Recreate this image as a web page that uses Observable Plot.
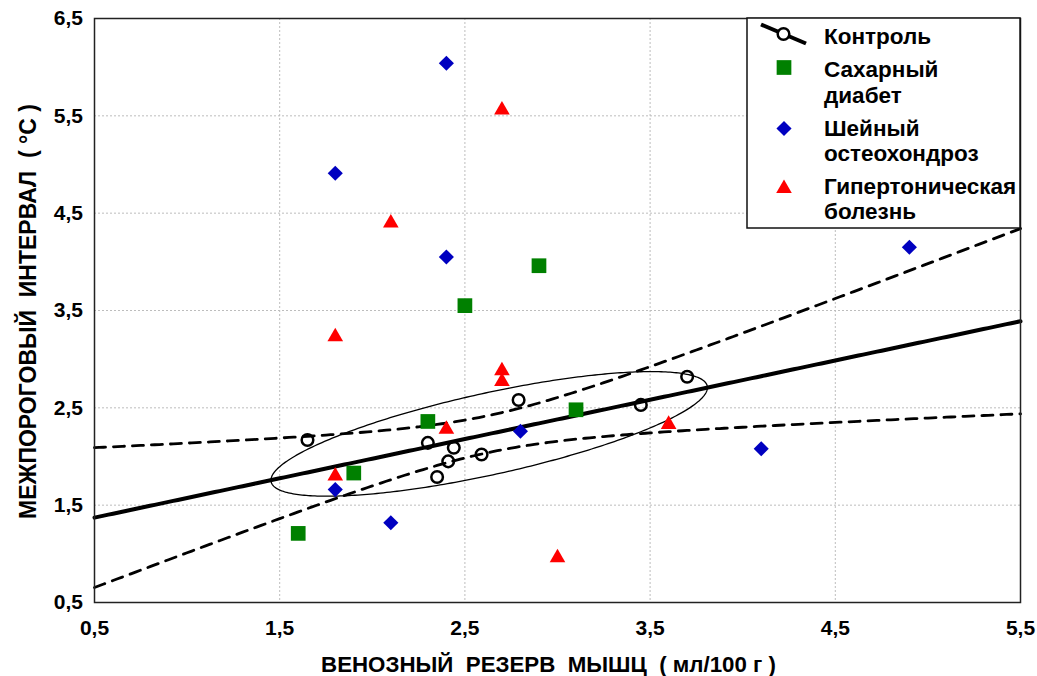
<!DOCTYPE html>
<html><head><meta charset="utf-8">
<script src="https://cdn.jsdelivr.net/npm/d3@7"></script>
<script src="https://cdn.jsdelivr.net/npm/@observablehq/plot@0.6"></script>
<style>
body{margin:0;background:#fff}
svg{display:block}
</style>
</head><body><div id="chart"></div>
<script>
// ---- data ----
const controlX = [1.65, 2.30, 2.44, 2.41, 2.35, 2.59, 2.79, 3.45, 3.70];
const controlY = [2.17, 2.14, 2.09, 1.95, 1.79, 2.02, 2.58, 2.53, 2.82];
const diabetesX = [1.6, 1.9, 2.3, 2.5, 2.9, 3.1];
const diabetesY = [1.21, 1.83, 2.36, 3.55, 3.96, 2.48];
const osteoX = [1.8, 1.8, 2.1, 2.4, 2.4, 2.8, 4.1, 4.9];
const osteoY = [4.91, 1.66, 1.32, 6.04, 4.05, 2.26, 2.08, 4.15];
const hyperX = [1.8, 1.8, 2.1, 2.4, 2.7, 2.7, 2.7, 3.0, 3.6];
const hyperY = [1.80, 3.23, 4.40, 2.28, 5.56, 2.88, 2.77, 0.96, 2.33];

const xTicks = [0.5, 1.5, 2.5, 3.5, 4.5, 5.5];
const yTicks = [0.5, 1.5, 2.5, 3.5, 4.5, 5.5, 6.5];
const seriesNames = ["Контроль", ["Сахарный", "диабет"], ["Шейный", "остеохондроз"], ["Гипертоническая", "болезнь"]];
const xTitle = "ВЕНОЗНЫЙ\u00a0\u00a0РЕЗЕРВ\u00a0\u00a0МЫШЦ\u00a0\u00a0(\u00a0мл/100\u00a0г\u00a0)";
const yTitle = "МЕЖПОРОГОВЫЙ\u00a0\u00a0ИНТЕРВАЛ\u00a0\u00a0(\u00a0°С\u00a0)";

const colGreen = "#008000", colBlue = "#0000c0", colRed = "#ff0000";
const FONT = "'Liberation Sans', Arial, sans-serif";

// ---- derived tables ----
const control = controlX.map((x, i) => ({x, y: controlY[i]}));
const diabetes = diabetesX.map((x, i) => ({x, y: diabetesY[i]}));
const osteo = osteoX.map((x, i) => ({x, y: osteoY[i]}));
const hyper = hyperX.map((x, i) => ({x, y: hyperY[i]}));

// linear regression of control group with 95% confidence band
const n = control.length;
const mx = d3.mean(controlX), my = d3.mean(controlY);
const sxx = d3.sum(controlX, x => (x - mx) ** 2);
const syy = d3.sum(controlY, y => (y - my) ** 2);
const sxy = d3.sum(control, d => (d.x - mx) * (d.y - my));
const slope = sxy / sxx, icpt = my - slope * mx;
const sres = Math.sqrt(d3.sum(control, d => (d.y - icpt - slope * d.x) ** 2) / (n - 2));
const tcrit = 2.365; // t(0.975, df = 7)
const xDomain = [xTicks[0], xTicks[xTicks.length - 1]];
const fit = d3.range(0, 201).map(i => {
  const x = xDomain[0] + i * (xDomain[1] - xDomain[0]) / 200;
  const yh = icpt + slope * x;
  const se = sres * Math.sqrt(1 / n + (x - mx) ** 2 / sxx);
  return {x, y: yh, lo: yh - tcrit * se, hi: yh + tcrit * se};
});

// confidence ellipse of the control group
const vx = sxx / (n - 1), vy = syy / (n - 1), cxy = sxy / (n - 1);
const sx = Math.sqrt(vx), l21 = cxy / sx, l22 = Math.sqrt(vy - l21 * l21);
const ek = 1.9;
const ellipse = d3.range(0, 361).map(a => {
  const t = a * Math.PI / 180;
  return {x: mx + ek * sx * Math.cos(t), y: my + ek * (l21 * Math.cos(t) + l22 * Math.sin(t))};
});

const fmt = d => d.toFixed(1).replace(".", ",");

const chart = Plot.plot({
  width: 1037,
  height: 676,
  marginLeft: 94,
  marginRight: 17,
  marginTop: 18,
  marginBottom: 74,
  style: {fontFamily: FONT, fontWeight: "bold", fontSize: "21px", color: "#000", background: "#fff"},
  x: {domain: xDomain},
  y: {domain: [yTicks[0], yTicks[yTicks.length - 1]]},
  marks: [
    Plot.gridX(xTicks, {stroke: "#bdbdbd", strokeOpacity: 1, strokeDasharray: "2,2"}),
    Plot.gridY(yTicks, {stroke: "#bdbdbd", strokeOpacity: 1, strokeDasharray: "2,2"}),
    Plot.line(ellipse, {x: "x", y: "y", stroke: "#000", strokeWidth: 1.3}),
    Plot.line(fit, {x: "x", y: "lo", stroke: "#000", strokeWidth: 2.8, strokeDasharray: "11,8"}),
    Plot.line(fit, {x: "x", y: "hi", stroke: "#000", strokeWidth: 2.8, strokeDasharray: "11,8"}),
    Plot.line(fit, {x: "x", y: "y", stroke: "#000", strokeWidth: 4}),
    Plot.dot(control, {x: "x", y: "y", r: 5.8, stroke: "#000", strokeWidth: 2.5, fill: "none"}),
    Plot.dot(diabetes, {x: "x", y: "y", symbol: "square", r: 8.3, fill: colGreen, stroke: "none"}),
    Plot.dot(osteo, {x: "x", y: "y", symbol: d3.symbolDiamond2, r: 6.8, fill: colBlue, stroke: "none"}),
    Plot.dot(hyper, {x: "x", y: "y", symbol: "triangle", r: 5.8, fill: colRed, stroke: "none"}),
    Plot.frame({stroke: "#222", strokeWidth: 1.5}),
    Plot.axisX({ticks: xTicks, tickFormat: fmt, tickSize: 0, tickPadding: 18, label: null, fontSize: 21, fontWeight: "bold"}),
    Plot.axisY({ticks: yTicks, tickFormat: fmt, tickSize: 0, tickPadding: 11.5, label: null, fontSize: 21, fontWeight: "bold"}),
    Plot.text([xTitle], {text: d => d, frameAnchor: "bottom", dy: 62, dx: -9, textAnchor: "middle", lineAnchor: "middle", fontSize: 22.3, fontWeight: "bold"}),
    Plot.text([yTitle], {text: d => d, frameAnchor: "left", dx: -66, dy: 1, rotate: -90, textAnchor: "middle", lineAnchor: "middle", fontSize: 23, fontWeight: "bold"})
  ]
});

// ---- legend drawn in the top-right corner of the frame ----
const xs = chart.scale("x"), ys = chart.scale("y");
const legRight = xs.apply(xDomain[1]), legTop = ys.apply(yTicks[yTicks.length - 1]);
const lw = 273, lh = 210;
const svg = d3.select(chart);
const lg = svg.append("g").attr("transform", `translate(${legRight - lw},${legTop})`)
  .style("font-family", FONT).style("font-weight", "bold").style("font-size", "22.5px");
lg.append("rect").attr("width", lw).attr("height", lh).attr("fill", "#fff").attr("stroke", "#111").attr("stroke-width", 1.5);
// control: line + circle
lg.append("line").attr("x1", 14).attr("y1", 6.5).attr("x2", 59).attr("y2", 25.5).attr("stroke", "#000").attr("stroke-width", 4);
lg.append("circle").attr("cx", 36.5).attr("cy", 16).attr("r", 5.8).attr("fill", "#fff").attr("stroke", "#000").attr("stroke-width", 2.5);
const sym = (type, r) => d3.symbol(type, Math.PI * r * r)();
lg.append("path").attr("d", sym(d3.symbolSquare, 8.3)).attr("transform", "translate(37,49.5)").attr("fill", colGreen);
lg.append("path").attr("d", sym(d3.symbolDiamond2, 6.8)).attr("transform", "translate(37,110.5)").attr("fill", colBlue);
lg.append("path").attr("d", sym(d3.symbolTriangle, 5.8)).attr("transform", "translate(37,170.5)").attr("fill", colRed);
const baselines = [[25.5], [59, 84.5], [117.5, 142.5], [175.5, 201]];
seriesNames.forEach((name, i) => {
  const lines = Array.isArray(name) ? name : [name];
  lines.forEach((t, j) => {
    lg.append("text").attr("x", 77).attr("y", baselines[i][j]).attr("text-anchor", "start").attr("fill", "#000").text(t);
  });
});

document.getElementById("chart").appendChild(chart);
</script>
</body></html>
